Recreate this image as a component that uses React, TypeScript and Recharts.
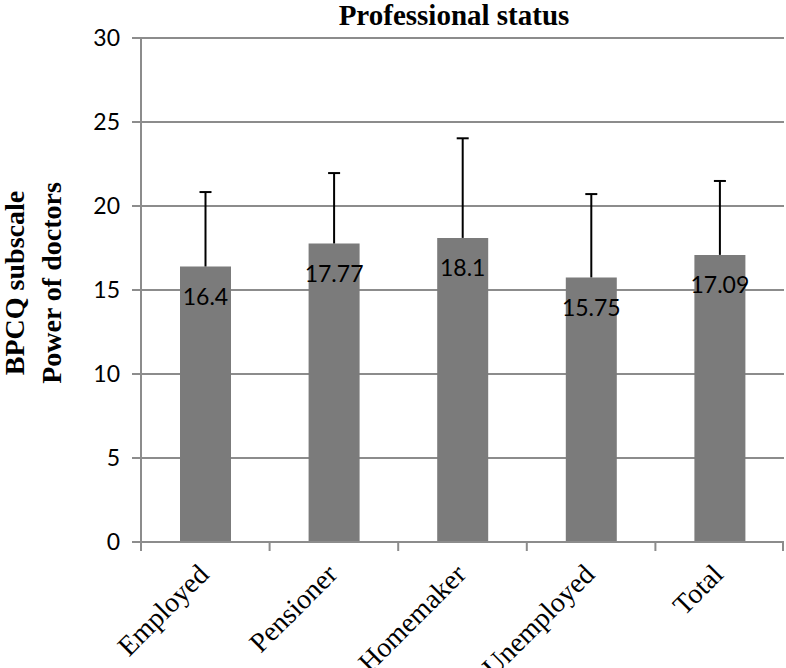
import React from 'react';
import { BarChart, Bar, XAxis, YAxis, CartesianGrid, LabelList } from 'recharts';

const categories = ['Employed', 'Pensioner', 'Homemaker', 'Unemployed', 'Total'];
const means = [16.4, 17.77, 18.1, 15.75, 17.09];
const sdUpper = [4.43, 4.19, 5.93, 4.96, 4.4];
const yTicks = [0, 5, 10, 15, 20, 25, 30];

const data = categories.map((name, i) => ({ name, mean: means[i], sd: sdUpper[i] }));

const GRAY = '#8c8c8c';

const XTick = (props: any) => {
  const { x, y, payload, index, width, visibleTicksCount } = props;
  let band = 0;
  if (width && visibleTicksCount) band = Number(width) / Number(visibleTicksCount);
  else if (payload && payload.offset) band = payload.offset * 2;
  const isLast = index === (visibleTicksCount || categories.length) - 1;
  return (
    <g>
      {band > 0 && (
        <line x1={x - band / 2} x2={x - band / 2} y1={y} y2={y + 9} stroke={GRAY} strokeWidth={2} />
      )}
      {band > 0 && isLast && (
        <line x1={x + band / 2 - 1} x2={x + band / 2 - 1} y1={y} y2={y + 9} stroke={GRAY} strokeWidth={2} />
      )}
      <g transform={`translate(${x + 5},${y + 34})`}>
        <text transform="rotate(-45)" textAnchor="end" fontFamily="'Liberation Serif', serif" fontSize={28} fill="#000">
          {payload.value}
        </text>
      </g>
    </g>
  );
};

const ErrorShape = (props: any) => {
  const { x, y, width, height } = props;
  const cx = x + width / 2;
  return (
    <g>
      <line x1={cx} x2={cx} y1={y} y2={y + height} stroke="#000" strokeWidth={2} />
      <line x1={cx - 6} x2={cx + 6} y1={y} y2={y} stroke="#000" strokeWidth={2} />
    </g>
  );
};

export default function App() {
  return (
    <div style={{ position: 'absolute', left: 0, top: 0, width: 786, height: 668, background: '#fff' }}>
      <BarChart width={786} height={668} data={data} margin={{ top: 38, right: 2, bottom: 0, left: 0 }}>
        <CartesianGrid vertical={false} stroke={GRAY} strokeWidth={2} />
        <XAxis
          dataKey="name"
          type="category"
          height={126}
          axisLine={{ stroke: GRAY, strokeWidth: 2 }}
          tickLine={false}
          tickSize={0}
          tickMargin={0}
          interval={0}
          tick={<XTick />}
        />
        <YAxis
          domain={[0, 30]}
          ticks={yTicks}
          interval={0}
          width={141}
          tickSize={9}
          tickMargin={12}
          axisLine={{ stroke: GRAY, strokeWidth: 2 }}
          tickLine={{ stroke: GRAY, strokeWidth: 2 }}
          tick={{ fill: '#000', fontSize: 23, fontFamily: 'Lato, sans-serif' }}
        />
        <Bar dataKey="mean" stackId="a" fill="#7b7b7b" barSize={51} isAnimationActive={false}>
          <LabelList dataKey="mean" position="insideTop" offset={22} fill="#000" fontSize={23} fontFamily="Lato, sans-serif" />
        </Bar>
        <Bar dataKey="sd" stackId="a" fill="none" barSize={51} shape={<ErrorShape />} isAnimationActive={false} />
      </BarChart>
      <svg width={786} height={668} style={{ position: 'absolute', left: 0, top: 0, pointerEvents: 'none' }}>
        <text x={454} y={25} textAnchor="middle" fontFamily="'Liberation Serif', serif" fontWeight="bold" fontSize={29} fill="#000">
          Professional status
        </text>
        <text transform="translate(24,283) rotate(-90)" textAnchor="middle" fontFamily="'Liberation Serif', serif" fontWeight="bold" fontSize={28} fill="#000">
          <tspan x={0} dy={0}>BPCQ subscale</tspan>
          <tspan x={0} dy={37}>Power of doctors</tspan>
        </text>
      </svg>
    </div>
  );
}
